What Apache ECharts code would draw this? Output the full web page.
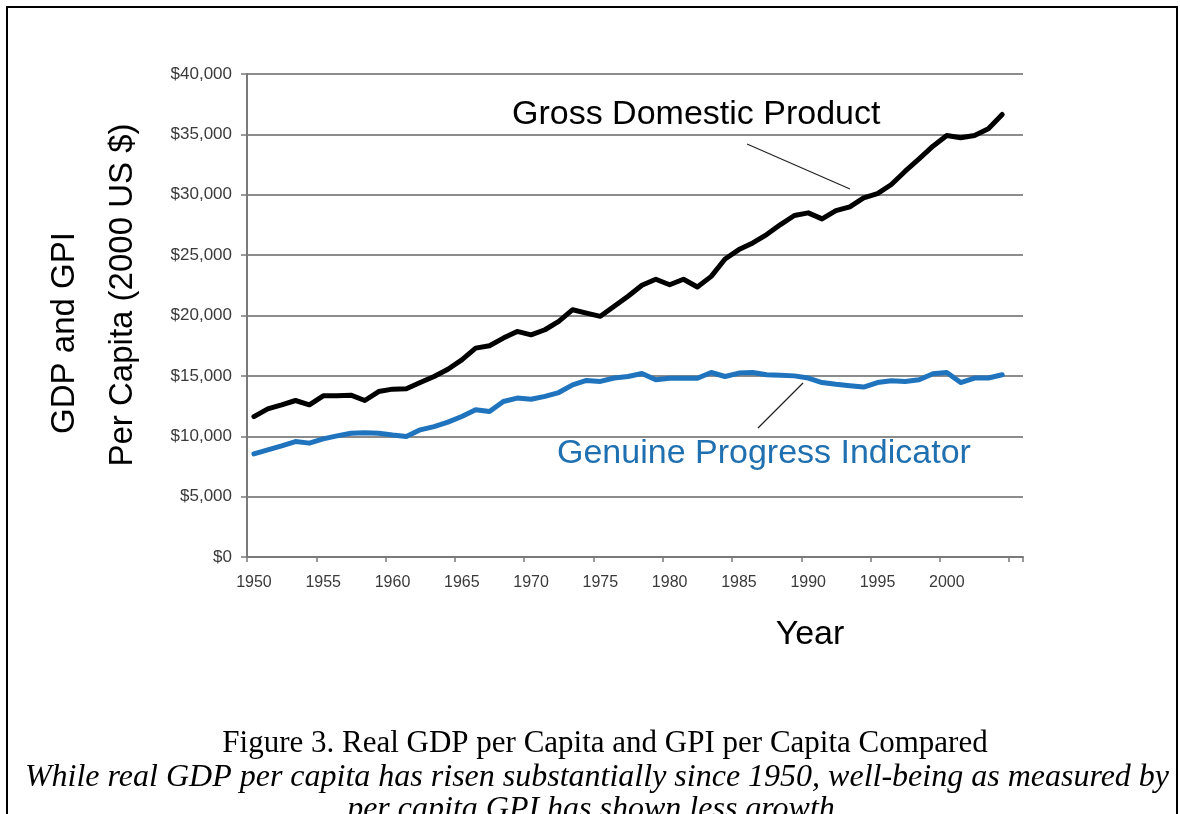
<!DOCTYPE html>
<html>
<head>
<meta charset="utf-8">
<script src="https://cdn.jsdelivr.net/npm/echarts@6/dist/echarts.min.js"></script>
<style>
html,body{margin:0;padding:0;background:#fff;}
#chart{width:1180px;height:814px;}
</style>
</head>
<body>
<div id="chart"></div>
<script>
// Categories: years on the axis (2005 slot kept empty, as in the original)
const years = [];
for (let y = 1950; y <= 2005; y++) years.push(String(y));

// Real GDP per capita (2000 US $), 1950-2004
const gdp = [
  11630, 12270, 12600, 12960, 12600, 13350, 13350, 13400, 12960, 13700,
  13900, 13930, 14450, 14950, 15550, 16330, 17300, 17500, 18130, 18680,
  18400, 18820, 19510, 20480, 20200, 19930, 20760, 21590, 22500, 23000,
  22550, 23000, 22360, 23240, 24680, 25460, 26010, 26700, 27530, 28280,
  28500, 28000, 28680, 29000, 29740, 30100, 30850, 31950, 32970, 34020,
  34900, 34720, 34900, 35460, 36650
];

// Genuine Progress Indicator per capita (2000 US $), 1950-2004
const gpi = [
  8540, 8870, 9200, 9560, 9430, 9780, 10030, 10250, 10300, 10250,
  10100, 9980, 10530, 10800, 11170, 11640, 12190, 12050, 12880, 13160,
  13070, 13300, 13620, 14260, 14620, 14540, 14820, 14950, 15200, 14680,
  14800, 14800, 14800, 15280, 14950, 15230, 15280, 15090, 15050, 15000,
  14820, 14450, 14300, 14180, 14070, 14450, 14590, 14540, 14680, 15170,
  15280, 14450, 14820, 14820, 15090
];

// Y tick labels
const yTicks = [0, 5000, 10000, 15000, 20000, 25000, 30000, 35000, 40000];

const chart = echarts.init(document.getElementById('chart'), null, {renderer: 'canvas'});

const sans = 'Liberation Sans, Arial, Helvetica, sans-serif';
const serif = 'Liberation Serif, Times New Roman, serif';

chart.setOption({
  backgroundColor: '#ffffff',
  animation: false,
  grid: {left: 247, right: 157, top: 74, bottom: 257, containLabel: false},
  xAxis: {
    type: 'category',
    data: years,
    boundaryGap: true,
    axisLine: {show: true, lineStyle: {color: '#7a7a7a', width: 2}},
    axisTick: {show: true, interval: 4, length: 5, lineStyle: {color: '#7a7a7a', width: 1.5}},
    axisLabel: {
      interval: 4, margin: 18, color: '#3a3a3a', fontFamily: sans, fontSize: 16,
      formatter: v => (v === '2005' ? '' : v)
    },
    splitLine: {show: false}
  },
  yAxis: {
    type: 'value',
    min: 0, max: 40000, interval: 5000,
    axisLine: {show: true, lineStyle: {color: '#7a7a7a', width: 2}},
    axisTick: {show: true, length: 6, lineStyle: {color: '#7a7a7a', width: 1.5}},
    axisLabel: {
      margin: 15, color: '#3a3a3a', fontFamily: sans, fontSize: 17,
      formatter: v => yTicks.indexOf(v) >= 0 ? '$' + v.toLocaleString('en-US') : ''
    },
    splitLine: {show: true, lineStyle: {color: '#8c8c8c', width: 2}}
  },
  series: [
    {
      name: 'Gross Domestic Product', type: 'line', data: gdp,
      symbol: 'none', smooth: false,
      lineStyle: {color: '#000000', width: 5, join: 'round', cap: 'round'},
      z: 3
    },
    {
      name: 'Genuine Progress Indicator', type: 'line', data: gpi,
      symbol: 'none', smooth: false,
      lineStyle: {color: '#1f74bd', width: 5, join: 'round', cap: 'round'},
      z: 2
    }
  ],
  graphic: [
    // page frame
    {type: 'line', shape: {x1: 6, y1: 7, x2: 1178, y2: 7}, style: {stroke: '#000', lineWidth: 2}},
    {type: 'line', shape: {x1: 7, y1: 6, x2: 7, y2: 814}, style: {stroke: '#000', lineWidth: 2}},
    {type: 'line', shape: {x1: 1177, y1: 6, x2: 1177, y2: 814}, style: {stroke: '#000', lineWidth: 2}},
    // series annotations
    {type: 'text', left: 512, top: 98, style: {text: 'Gross Domestic Product', font: '34px ' + sans, fill: '#000'}},
    {type: 'line', shape: {x1: 747, y1: 144, x2: 850, y2: 189}, style: {stroke: '#222', lineWidth: 1.2}},
    {type: 'text', left: 557, top: 437, style: {text: 'Genuine Progress Indicator', font: '34px ' + sans, fill: '#1f70b0'}},
    {type: 'line', shape: {x1: 803, y1: 383, x2: 758, y2: 428}, style: {stroke: '#222', lineWidth: 1.2}},
    // axis titles
    {type: 'text', x: 65, y: 333, rotation: Math.PI / 2,
     style: {text: 'GDP and GPI', font: '33px ' + sans, fill: '#000', align: 'center', verticalAlign: 'middle'}},
    {type: 'text', x: 123, y: 295, rotation: Math.PI / 2,
     style: {text: 'Per Capita (2000 US $)', font: '33px ' + sans, fill: '#000', align: 'center', verticalAlign: 'middle'}},
    {type: 'text', x: 810, y: 635,
     style: {text: 'Year', font: '34px ' + sans, fill: '#000', align: 'center', verticalAlign: 'middle'}},
    // caption
    {type: 'text', x: 605, y: 744,
     style: {text: 'Figure 3. Real GDP per Capita and GPI per Capita Compared', font: '31px ' + serif, fill: '#000', align: 'center', verticalAlign: 'middle'}},
    {type: 'text', x: 597, y: 778,
     style: {text: 'While real GDP per capita has risen substantially since 1950, well-being as measured by', font: 'italic 32px ' + serif, fill: '#000', align: 'center', verticalAlign: 'middle'}},
    {type: 'text', x: 595, y: 810,
     style: {text: 'per capita GPI has shown less growth.', font: 'italic 32px ' + serif, fill: '#000', align: 'center', verticalAlign: 'middle'}}
  ]
});
</script>
</body>
</html>
